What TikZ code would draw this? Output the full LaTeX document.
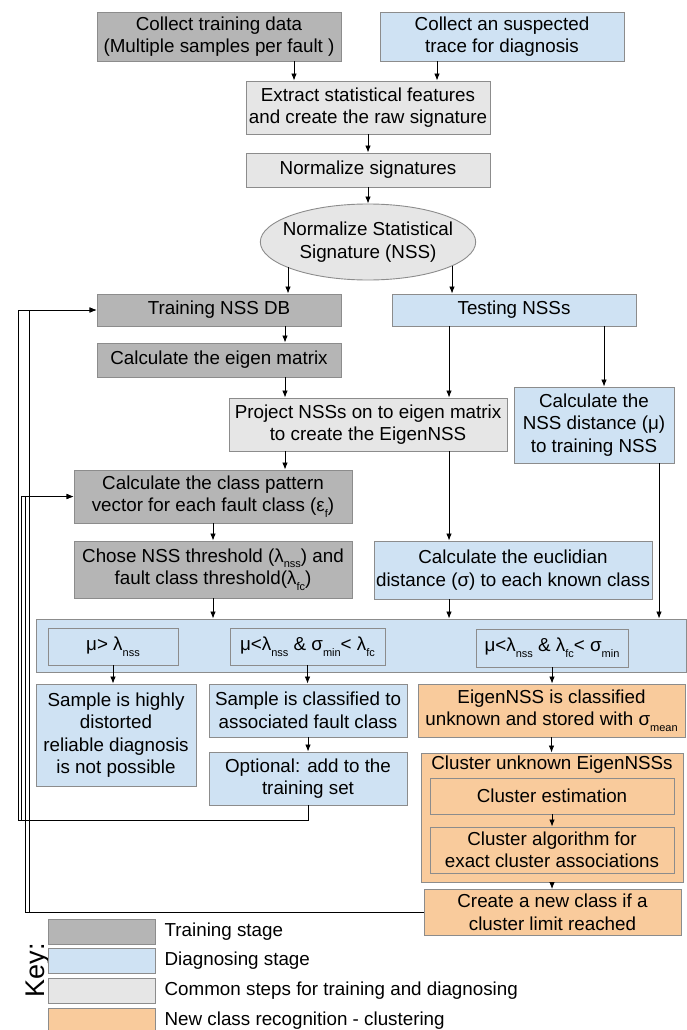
\documentclass[tikz,border=0pt]{standalone}
\usepackage{fontspec}
\setmainfont{Liberation Sans}
\usetikzlibrary{shapes.geometric, arrows.meta, positioning}
\newcommand{\lsub}[1]{\raisebox{-0.6ex}{\fontsize{11}{11}\selectfont #1}}
\definecolor{traingray}{HTML}{B5B5B5}
\definecolor{diagblue}{HTML}{CFE2F3}
\definecolor{commongray}{HTML}{E6E6E6}
\definecolor{neworange}{HTML}{F9CB9C}
\definecolor{edgegray}{HTML}{8C8C8C}
\begin{document}
\begin{tikzpicture}[x=1pt, y=-1pt,
        flowbox/.style={rectangle, draw=edgegray, line width=0.9pt, align=center, inner sep=0pt, font=\fontsize{18.8}{22.5}\selectfont},
        trainbox/.style={flowbox, fill=traingray},
        diagbox/.style={flowbox, fill=diagblue},
        commonbox/.style={flowbox, fill=commongray},
        newbox/.style={flowbox, fill=neworange},
        keytext/.style={inner sep=0pt, font=\fontsize{18.8}{22.5}\selectfont},
        arr/.style={-{Latex[length=7pt,width=5.5pt]}, line width=0.8pt}
    ]
    \useasboundingbox (0,0) rectangle (686,1030);

    % common and training steps
    \node[trainbox, minimum width=244, minimum height=49] (collect) at (219,36.5) {Collect training data\\(Multiple samples per fault )};
    \node[diagbox, minimum width=244, minimum height=49] (suspect) at (502,36.5) {Collect an suspected\\trace for diagnosis};
    \node[commonbox, minimum width=244, minimum height=53] (extract) at (368,107.5) {Extract statistical features\\and create the raw signature};
    \node[commonbox, minimum width=244, minimum height=34] (normsig) at (368,170) {Normalize signatures};
    \node[commonbox, ellipse, inner xsep=-9pt, minimum width=214, minimum height=76] (nss) at (368,242) {Normalize Statistical\\Signature (NSS)};
    \node[trainbox, minimum width=244, minimum height=32] (trainDB) at (219,310) {Training NSS DB};
    \node[diagbox, minimum width=244, minimum height=32] (testing) at (514,310) {Testing NSSs};
    \node[trainbox, minimum width=244, minimum height=34] (eigen) at (219,360) {Calculate the eigen matrix};
    \node[commonbox, minimum width=278, minimum height=53] (project) at (368,424.5) {Project NSSs on to eigen matrix\\to create the EigenNSS};
    \node[diagbox, minimum width=160, minimum height=76] (dist) at (594,425) {Calculate the\\NSS distance (μ)\\to training NSS};
    \node[trainbox, minimum width=278, minimum height=53] (pattern) at (213,496.5) {Calculate the class pattern\\vector for each fault class (ε\lsub{f})};
    \node[trainbox, minimum width=278, minimum height=57] (thresh) at (213,569.5) {Chose NSS threshold (λ\lsub{nss}) and\\fault class threshold(λ\lsub{fc})};
    \node[diagbox, minimum width=278, minimum height=58] (eucl) at (513,570) {Calculate the euclidian\\distance (σ) to each known class};

    % decision band
    \node[diagbox, minimum width=650, minimum height=53] (cond) at (361,645.5) {};
    \node[diagbox, minimum width=130, minimum height=37] (condA) at (113,646.5) {μ> λ\lsub{nss}};
    \node[diagbox, minimum width=155, minimum height=37] (condB) at (307.5,646.5) {μ<λ\lsub{nss} \& σ\lsub{min}< λ\lsub{fc}};
    \node[diagbox, minimum width=152, minimum height=38] (condC) at (552,648) {μ<λ\lsub{nss} \& λ\lsub{fc}< σ\lsub{min}};

    % outcomes
    \node[diagbox, minimum width=160, minimum height=102] (distorted) at (116,735) {Sample is highly\\distorted\\reliable diagnosis\\is not possible};
    \node[diagbox, minimum width=198, minimum height=53] (classified) at (308,710.5) {Sample is classified to\\associated fault class};
    \node[diagbox, minimum width=198, minimum height=53] (optional) at (308,778.5) {Optional: add to the\\training set};
    \node[newbox, minimum width=267, minimum height=53] (unknown) at (551.5,710.5) {EigenNSS is classified\\unknown and stored with σ\lsub{mean}};
    \node[newbox, minimum width=262, minimum height=129,
        label={[anchor=north, inner sep=0pt, yshift=-3, font=\fontsize{18.8}{22.5}\selectfont]north:Cluster unknown EigenNSSs}] (cluster) at (552,817.5) {};
    \node[newbox, minimum width=244, minimum height=36] (estim) at (552,796) {Cluster estimation};
    \node[newbox, minimum width=244, minimum height=46] (algo) at (552,850) {Cluster algorithm for\\exact cluster associations};
    \node[newbox, minimum width=257, minimum height=46] (newclass) at (552.5,912.5) {Create a new class if a\\cluster limit reached};

    % key
    \node[rotate=90, inner sep=0pt, font=\fontsize{27}{27}\selectfont] (keyword) at (38,970) {Key:};
    \node[trainbox, minimum width=107, minimum height=25] (keytrain) at (101.5,931.5) {};
    \node[diagbox, minimum width=107, minimum height=25] (keydiag) at (101.5,961) {};
    \node[commonbox, minimum width=107, minimum height=25] (keycommon) at (101.5,990.5) {};
    \node[newbox, minimum width=107, minimum height=25] (keynew) at (101.5,1020.5) {};
    \node[keytext, right=9pt of keytrain] (keytrainlbl) {Training stage};
    \node[keytext, right=9pt of keydiag] (keydiaglbl) {Diagnosing stage};
    \node[keytext, right=9pt of keycommon] (keycommonlbl) {Common steps for training and diagnosing};
    \node[keytext, right=9pt of keynew] (keynewlbl) {New class recognition - clustering};

    % forward arrows
    \draw[arr] ([xshift=75]collect.south) -- ([xshift=75]collect.south |- extract.north);
    \draw[arr] ([xshift=-65]suspect.south) -- ([xshift=-65]suspect.south |- extract.north);
    \draw[arr] (extract) -- (normsig);
    \draw[arr] (normsig) -- (nss);
    \draw[arr] ([xshift=-80,yshift=-25]nss.center) -- ([xshift=-80]nss.center |- trainDB.north);
    \draw[arr] ([xshift=84,yshift=-23.5]nss.center) -- ([xshift=84]nss.center |- testing.north);
    \draw[arr] ([xshift=66]trainDB.south) -- ([xshift=66]trainDB.south |- eigen.north);
    \draw[arr] ([xshift=66]eigen.south) -- ([xshift=66]eigen.south |- project.north);
    \draw[arr] ([xshift=-65]testing.south) -- ([xshift=-65]testing.south |- project.north);
    \draw[arr] ([xshift=90]testing.south) -- ([xshift=90]testing.south |- dist.north);
    \draw[arr] ([xshift=-83]project.south) -- ([xshift=-83]project.south |- pattern.north);
    \draw[arr] ([xshift=81]project.south) -- ([xshift=81]project.south |- eucl.north);
    \draw[arr] (pattern) -- (thresh);
    \draw[arr] (thresh.south) -- (thresh.south |- cond.north);
    \draw[arr] ([xshift=-64]eucl.south) -- ([xshift=-64]eucl.south |- cond.north);
    \draw[arr] ([xshift=65]dist.south) -- ([xshift=65]dist.south |- cond.north);
    \draw[arr] (condA.south) -- (condA.south |- distorted.north);
    \draw[arr] (condB.south) -- (condB.south |- classified.north);
    \draw[arr] (condC.south) -- (condC.south |- unknown.north);
    \draw[arr] (classified) -- (optional);
    \draw[arr] (unknown.south) -- (unknown.south |- cluster.north);
    \draw[arr] (estim) -- (algo);
    \draw[arr] (cluster.south) -- (cluster.south |- newclass.north);

    % feedback to training
    \coordinate (railA) at (18,820);
    \coordinate (railB) at (21.5,820);
    \coordinate (railC) at (25,912.5);
    \coordinate (railD) at (29,912.5);
    \draw[arr] (optional.south) |- (railA) |- (trainDB.west);
    \draw[arr] (optional.south) |- (railB) |- (pattern.west);
    \draw[arr] (newclass.west) -- (railC) |- (pattern.west);
    \draw[arr] (newclass.west) -- (railD) |- (trainDB.west);
\end{tikzpicture}
\end{document}
